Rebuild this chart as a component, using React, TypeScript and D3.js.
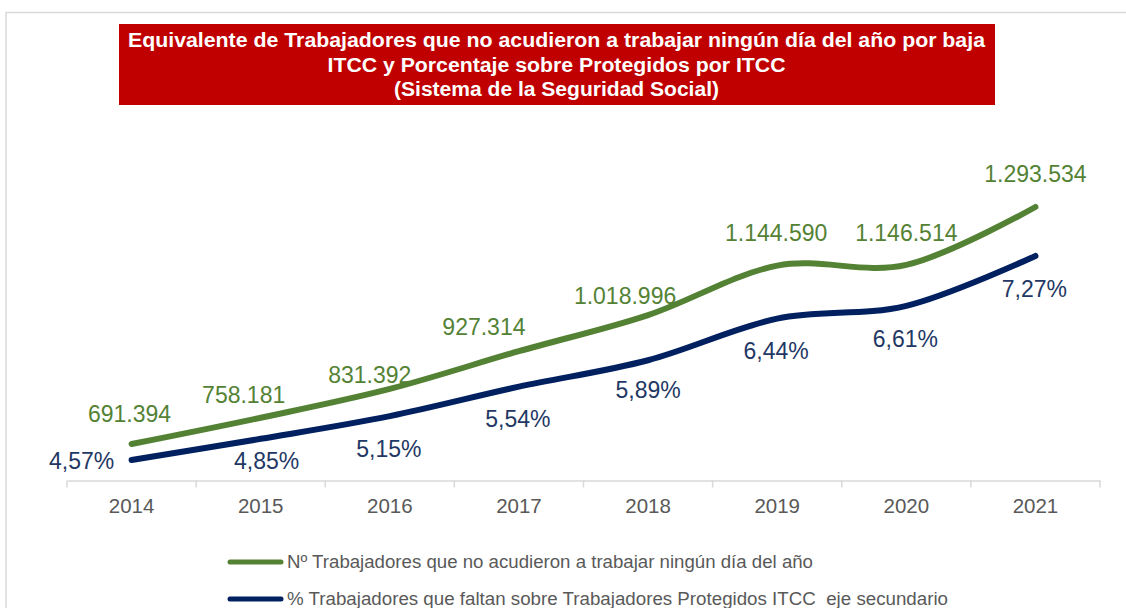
import React, { useRef, useEffect } from 'react';
import * as d3 from 'd3';

const years = ['2014', '2015', '2016', '2017', '2018', '2019', '2020', '2021'];
const workers = [691394, 758181, 831392, 927314, 1018996, 1144590, 1146514, 1293534];
const percents = [4.57, 4.85, 5.15, 5.54, 5.89, 6.44, 6.61, 7.27];

const titleLines = [
    'Equivalente de Trabajadores que no acudieron a trabajar ningún día del año por baja',
    'ITCC y Porcentaje sobre Protegidos por ITCC',
    '(Sistema de la Seguridad Social)',
];
const legendLabels = [
    'Nº Trabajadores que no acudieron a trabajar ningún día del año',
    '% Trabajadores que faltan sobre Trabajadores Protegidos ITCC  eje secundario',
];

// label nudges (px) relative to the default spot above / below the point
const greenNudge = [[-2, 3], [-17, 10], [-20, 19], [-35, 9], [-23, 14], [-1, 0], [0, 1], [0, 0]];
const blueNudge = [[-50, -32], [6, -11], [-1, 0], [-1, -1], [0, -3], [-1, -1], [-1, 0], [-1, 0]];

const GREEN = '#548235';
const NAVY = '#002060';
const NAVY_TEXT = '#1f3864';
const FONT = 'Arial, "Liberation Sans", sans-serif';

const fmtThousands = (v: number) => d3.format(',')(v).replace(/,/g, '.');
const fmtPct = (v: number) => v.toFixed(2).replace('.', ',') + '%';

const App = () => {
    const svgRef = useRef<SVGSVGElement>(null);

    useEffect(() => {
        const svgWidth = 1126;
        const svgHeight = 608;

        const svg = d3.select(svgRef.current)
            .attr('width', svgWidth)
            .attr('height', svgHeight);
        svg.selectAll('*').remove();

        svg.append('rect')
            .attr('width', svgWidth).attr('height', svgHeight)
            .attr('fill', '#fff');

        // outer chart frame (only top and left visible)
        svg.append('path')
            .attr('d', `M6,${svgHeight} V12.5 H${svgWidth}`)
            .attr('fill', 'none')
            .attr('stroke', '#d9d9d9')
            .attr('stroke-width', 1.5);

        // title box
        svg.append('rect')
            .attr('x', 119).attr('y', 24)
            .attr('width', 876).attr('height', 81)
            .attr('fill', '#c00000');

        const titleWidths = [857, 458, 325];
        titleLines.forEach((t, i) => {
            svg.append('text')
                .attr('x', 556.5)
                .attr('y', 47 + i * 24.5)
                .attr('text-anchor', 'middle')
                .attr('fill', '#fff')
                .attr('font-family', FONT)
                .attr('font-weight', 'bold')
                .attr('font-size', 19.5)
                .attr('textLength', titleWidths[i])
                .attr('lengthAdjust', 'spacingAndGlyphs')
                .text(t);
        });

        const xScale = d3.scaleBand()
            .domain(years)
            .range([67, 1100]);

        const yLeft = d3.scaleLinear()
            .domain([400000, 1400000])
            .range([558.7, 165.1]);

        const yRight = d3.scaleLinear()
            .domain([3, 8])
            .range([578.6, 200.8]);

        const cx = (i: number) => (xScale(years[i]) as number) + xScale.bandwidth() / 2;

        // category axis
        const axisY = 480.5;
        const axis = svg.append('g')
            .attr('transform', `translate(0,${axisY})`)
            .call(d3.axisBottom(xScale).tickSize(0).tickPadding(0));
        axis.select('.domain').attr('stroke', '#d9d9d9').attr('stroke-width', 1.5);
        axis.selectAll('.tick text')
            .attr('y', 32)
            .attr('dy', 0)
            .attr('fill', '#595959')
            .attr('font-family', FONT)
            .attr('font-size', 20.5);

        const bounds = years.map((y) => xScale(y) as number).concat([xScale.range()[1]]);
        svg.append('g').selectAll('line')
            .data(bounds)
            .enter()
            .append('line')
            .attr('x1', (d) => d).attr('x2', (d) => d)
            .attr('y1', axisY).attr('y2', axisY + 7)
            .attr('stroke', '#d9d9d9')
            .attr('stroke-width', 1.5);

        const lineGreen = d3.line<number>()
            .x((_, i) => cx(i))
            .y((d) => yLeft(d))
            .curve(d3.curveCatmullRom.alpha(0));

        const lineNavy = d3.line<number>()
            .x((_, i) => cx(i))
            .y((d) => yRight(d))
            .curve(d3.curveCatmullRom.alpha(0));

        svg.append('path')
            .datum(workers)
            .attr('fill', 'none')
            .attr('stroke', GREEN)
            .attr('stroke-width', 6)
            .attr('stroke-linecap', 'round')
            .attr('d', lineGreen);

        svg.append('path')
            .datum(percents)
            .attr('fill', 'none')
            .attr('stroke', NAVY)
            .attr('stroke-width', 6)
            .attr('stroke-linecap', 'round')
            .attr('d', lineNavy);

        svg.append('g').selectAll('text')
            .data(workers)
            .enter()
            .append('text')
            .attr('x', (d, i) => cx(i) + greenNudge[i][0])
            .attr('y', (d) => yLeft(d) - 25)
            .attr('dy', (d, i) => greenNudge[i][1])
            .attr('text-anchor', 'middle')
            .attr('fill', GREEN)
            .attr('font-family', FONT)
            .attr('font-size', 23)
            .text((d) => fmtThousands(d));

        svg.append('g').selectAll('text')
            .data(percents)
            .enter()
            .append('text')
            .attr('x', (d, i) => cx(i) + blueNudge[i][0])
            .attr('y', (d) => yRight(d) + 41)
            .attr('dy', (d, i) => blueNudge[i][1])
            .attr('text-anchor', 'middle')
            .attr('fill', NAVY_TEXT)
            .attr('font-family', FONT)
            .attr('font-size', 23)
            .text((d) => fmtPct(d));

        // legend
        const legendColors = [GREEN, NAVY];
        const legendWidths = [526, 661];
        legendLabels.forEach((lbl, i) => {
            const ly = 562 + i * 37;
            svg.append('line')
                .attr('x1', 230).attr('x2', 281)
                .attr('y1', ly).attr('y2', ly)
                .attr('stroke', legendColors[i])
                .attr('stroke-width', 5)
                .attr('stroke-linecap', 'round');
            svg.append('text')
                .attr('x', 287)
                .attr('y', ly + 6)
                .attr('fill', '#595959')
                .attr('font-family', FONT)
                .attr('font-size', 17.5)
                .attr('textLength', legendWidths[i])
                .attr('lengthAdjust', 'spacingAndGlyphs')
                .style('white-space', 'pre')
                .text(lbl);
        });
    }, []);

    return (
        <div style={{ position: 'absolute', left: 0, top: 0 }}>
            <svg ref={svgRef} style={{ display: 'block' }} />
        </div>
    );
};

export default App;
